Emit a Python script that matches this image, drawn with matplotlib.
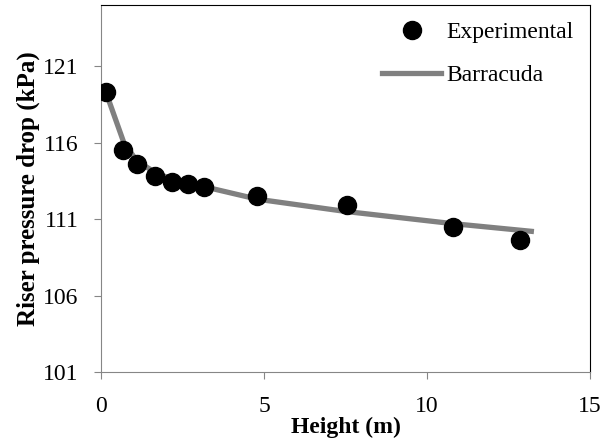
import matplotlib.pyplot as plt

plt.rcParams['font.family'] = ['Liberation Serif', 'DejaVu Serif']

# experimental points
height_exp = [0.15, 0.67, 1.1, 1.66, 2.18, 2.67, 3.16, 4.8, 7.55, 10.79, 12.85]
dp_exp = [119.3, 115.5, 114.6, 113.8, 113.4, 113.3, 113.1, 112.5, 111.9, 110.5, 109.6]

# Barracuda simulation
height_sim = [0.15, 0.7, 1.1, 1.7, 2.2, 3.2, 4.8, 7.5, 10.8, 13.2]
dp_sim = [119.3, 116.0, 114.8, 114.0, 113.6, 113.1, 112.3, 111.5, 110.7, 110.2]

fig = plt.figure(figsize=(6.03, 4.47), dpi=100)
ax = fig.add_axes([101/603, 1-372/447, 489/603, 367/447])

ax.plot(height_sim, dp_sim, color='#808080', lw=3.8, label='Barracuda', zorder=2)
ax.plot(height_exp, dp_exp, 'o', color='black', ms=13, label='Experimental', zorder=3)

ax.set_xlim(0, 15)
ax.set_ylim(101, 125)
ax.set_xticks([0, 5, 10, 15])
ax.set_yticks([101, 106, 111, 116, 121])
ax.tick_params(labelsize=17, length=5, color='#868686', direction='out')
ax.tick_params(axis='x', pad=12)
ax.tick_params(axis='y', pad=11)

for s in ['left', 'bottom']:
    ax.spines[s].set_color('#868686')
for s in ['top', 'right']:
    ax.spines[s].set_color('black')

ax.set_xlabel('Height (m)', fontsize=17, fontweight='bold', labelpad=0)
ax.set_ylabel('Riser pressure drop (kPa)', fontsize=18, fontweight='bold', labelpad=2)

h, l = ax.get_legend_handles_labels()
ax.legend(h[::-1], l[::-1], loc='upper right', frameon=False, fontsize=17,
          handlelength=2.5, borderaxespad=0.3, labelspacing=0.9, handletextpad=0.2)

fig.savefig('out.png', dpi=100)
